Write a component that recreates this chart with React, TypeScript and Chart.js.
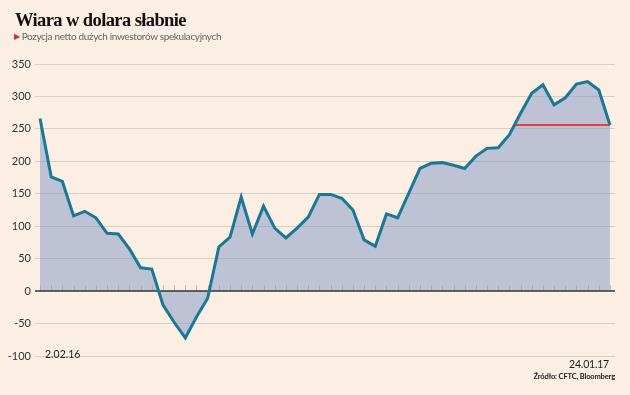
import React, { useEffect, useRef } from "react";
import { Chart, registerables } from "chart.js";

Chart.register(...registerables);

const startLabel = "2.02.16";
const endLabel = "24.01.17";
const title = "Wiara w dolara słabnie";
const subtitle = "Pozycja netto dużych inwestorów spekulacyjnych";
const source = "Źródło: CFTC, Bloomberg";

// weekly net positions, 2.02.16 – 24.01.17
const positions = [
  266, 176, 169, 116, 123, 113, 89, 88, 65, 36,
  34, -21, -48, -72, -40, -11, 68, 83, 145, 88,
  131, 97, 82, 97, 114, 149, 149, 143, 125, 79,
  69, 119, 113, 151, 189, 197, 198, 194, 189, 208,
  220, 221, 241, 274, 305, 318, 287, 298, 319, 323,
  310, 256,
];
const refLevel = 256;
const refStart = 42.45;
const yTicks = [350, 300, 250, 200, 150, 100, 50, 0, -50, -100];

const BG = "#fbeee3";

export default function App() {
  const ref = useRef<HTMLCanvasElement | null>(null);

  useEffect(() => {
    document.body.style.margin = "0";
    const canvas = ref.current;
    if (!canvas) return;

    const baselinePlugin = {
      id: "baseline",
      beforeDatasetsDraw(chart: any) {
        const { ctx, chartArea, scales } = chart;
        const y0 = scales.y.getPixelForValue(0);
        ctx.save();
        ctx.strokeStyle = "rgba(150,150,160,0.55)";
        ctx.lineWidth = 1;
        positions.forEach((_, i) => {
          const x = Math.round(scales.x.getPixelForValue(i)) + 0.5;
          ctx.beginPath();
          ctx.moveTo(x, y0);
          ctx.lineTo(x, y0 - 6);
          ctx.stroke();
        });
        ctx.strokeStyle = "#333333";
        ctx.lineWidth = 1.5;
        ctx.beginPath();
        ctx.moveTo(chartArea.left, y0);
        ctx.lineTo(chartArea.right, y0);
        ctx.stroke();
        ctx.restore();
      },
    };

    const chart = new Chart(canvas, {
      type: "line",
      data: {
        datasets: [
          {
            data: positions.map((v, i) => ({ x: i, y: v })),
            borderColor: "#1a7896",
            borderWidth: 3,
            pointRadius: 0,
            tension: 0,
            fill: "origin",
            backgroundColor: "rgba(130,150,200,0.5)",
          },
          {
            data: [
              { x: refStart, y: refLevel },
              { x: positions.length - 1, y: refLevel },
            ],
            borderColor: "#e2403a",
            borderWidth: 2,
            pointRadius: 0,
            fill: false,
          },
        ],
      },
      options: {
        animation: false,
        responsive: false,
        maintainAspectRatio: false,
        layout: { padding: { top: 64, bottom: 39, right: 15, left: 0 } },
        plugins: {
          legend: { display: false },
          tooltip: { enabled: false },
          filler: { drawTime: "beforeDatasetsDraw" } as any,
        },
        scales: {
          x: {
            type: "linear",
            min: -0.45,
            max: positions.length - 1 + 0.45,
            display: false,
          },
          y: {
            min: -100,
            max: 350,
            afterFit(scale: any) {
              scale.width = 35;
            },
            afterBuildTicks(scale: any) {
              scale.ticks = yTicks.map((v) => ({ value: v }));
            },
            border: { display: false },
            grid: {
              drawTicks: false,
              color: (c: any) => (c.tick && c.tick.value === 0 ? "rgba(0,0,0,0)" : "#d8cfc6"),
              lineWidth: 1,
            },
            ticks: {
              padding: 4,
              color: "#333333",
              font: { family: "Lato", size: 11 },
            },
          },
        },
      },
      plugins: [baselinePlugin],
    });
    return () => chart.destroy();
  }, []);

  const abs = (s: React.CSSProperties): React.CSSProperties => ({ position: "absolute", whiteSpace: "nowrap", ...s });

  return (
    <div style={{ position: "fixed", left: 0, top: 0, width: 630, height: 395, background: BG, overflow: "hidden" }}>
      <canvas ref={ref} width={630} height={395} style={{ position: "absolute", left: 0, top: 0, width: 630, height: 395 }} />
      <div style={abs({ left: 15, top: 10, fontFamily: "'Liberation Serif', serif", fontWeight: 700, fontSize: 18.5, color: "#111", letterSpacing: -0.6 })}>
        {title}
      </div>
      <div style={abs({ left: 14, top: 30, fontFamily: "Lato", fontSize: 10, color: "#666", letterSpacing: -0.35 })}>
        <span style={{ color: "#e2261c", fontSize: 8, marginRight: 2, position: "relative", top: -1 }}>▶</span>
        {subtitle}
      </div>
      <div style={abs({ left: 45, top: 348, fontFamily: "Lato", fontSize: 10.5, color: "#222" })}>{startLabel}</div>
      <div style={abs({ right: 21, top: 358, fontFamily: "Lato", fontSize: 10.5, color: "#222", letterSpacing: -0.2 })}>{endLabel}</div>
      <div style={abs({ right: 15, top: 372, fontFamily: "Lato", fontSize: 7.5, fontWeight: 700, color: "#222", letterSpacing: -0.15 })}>{source}</div>
    </div>
  );
}
